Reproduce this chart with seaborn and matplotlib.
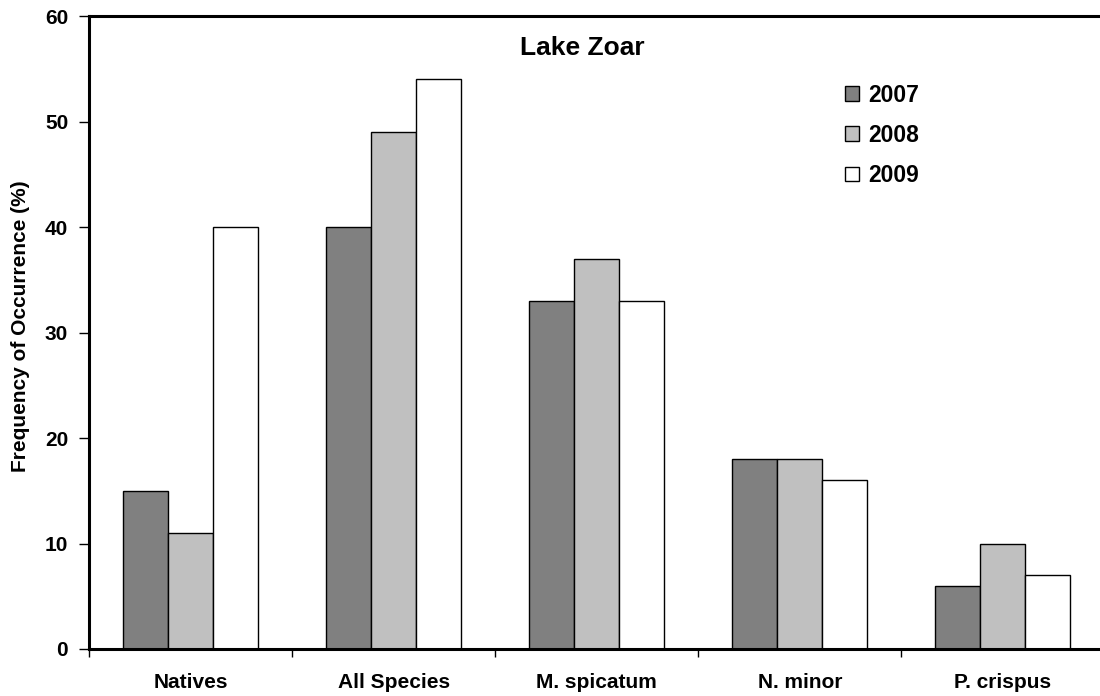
import matplotlib
matplotlib.use("Agg")
import matplotlib.pyplot as plt
import seaborn as sns
import pandas as pd
from matplotlib.patches import Patch
from matplotlib.ticker import FixedLocator

categories = ["Natives", "All Species", "M. spicatum", "N. minor", "P. crispus"]
years = ["2007", "2008", "2009"]
vals_2007 = [15, 40, 33, 18, 6]
vals_2008 = [11, 49, 37, 18, 10]
vals_2009 = [40, 54, 33, 16, 7]
colors = ["#808080", "#C0C0C0", "#FFFFFF"]

rows = []
for y, vals in zip(years, [vals_2007, vals_2008, vals_2009]):
    for c, v in zip(categories, vals):
        rows.append({"Category": c, "Year": y, "Value": v})
df = pd.DataFrame(rows)

sns.set_style("white")
plt.rcParams["font.family"] = ["Liberation Sans", "DejaVu Sans"]
plt.rcParams["text.color"] = "black"
plt.rcParams["axes.labelcolor"] = "black"
plt.rcParams["xtick.color"] = "black"
plt.rcParams["ytick.color"] = "black"

fig = plt.figure(figsize=(11, 6.96), dpi=100)
ax = fig.add_axes([89/1100, 47/696, 1 - 89/1100 + 0.004, (649-16)/696])

sns.barplot(data=df, x="Category", y="Value", hue="Year", order=categories,
            hue_order=years, palette=colors, width=0.665, gap=0,
            edgecolor="black", linewidth=1.0, saturation=1, ax=ax, legend=False)

ax.set_xlim(-0.5, 4.5)
ax.set_ylim(0, 60)
ax.set_yticks([0, 10, 20, 30, 40, 50, 60])
ax.set_xlabel("")
ax.set_ylabel("Frequency of Occurrence (%)", fontsize=15, fontweight="bold",
              color="black")
ax.yaxis.set_label_coords(-0.058, 0.51)

ax.tick_params(axis="y", which="major", direction="out", length=7, width=1,
               color="black", labelcolor="black", labelsize=15, pad=8, left=True)
ax.tick_params(axis="x", which="major", length=0, labelsize=15, pad=17,
               labelcolor="black")
for lab in ax.get_yticklabels() + ax.get_xticklabels():
    lab.set_fontweight("bold")
ax.xaxis.set_minor_locator(FixedLocator([-0.5, 0.5, 1.5, 2.5, 3.5, 4.5]))
ax.tick_params(axis="x", which="minor", direction="out", length=6, width=1,
               color="black", bottom=True)

for side in ["left", "top", "bottom"]:
    ax.spines[side].set_visible(True)
    ax.spines[side].set_color("black")
    ax.spines[side].set_linewidth(2.2)
ax.spines["right"].set_visible(False)

ax.text(0.486, 0.938, "Lake Zoar", transform=ax.transAxes, ha="center",
        va="baseline", fontsize=19, fontweight="bold", color="black")

handles = [Patch(facecolor=c, edgecolor="black", linewidth=1.0) for c in colors]
leg = ax.legend(handles, years, loc="upper left", bbox_to_anchor=(0.745, 0.893),
                frameon=False, prop={"weight": "bold", "size": 16.5},
                handlelength=0.61, handleheight=0.61, handletextpad=0.4,
                labelspacing=0.75, borderpad=0, borderaxespad=0)
for t in leg.get_texts():
    t.set_color("black")

fig.savefig("out.png", dpi=100)
